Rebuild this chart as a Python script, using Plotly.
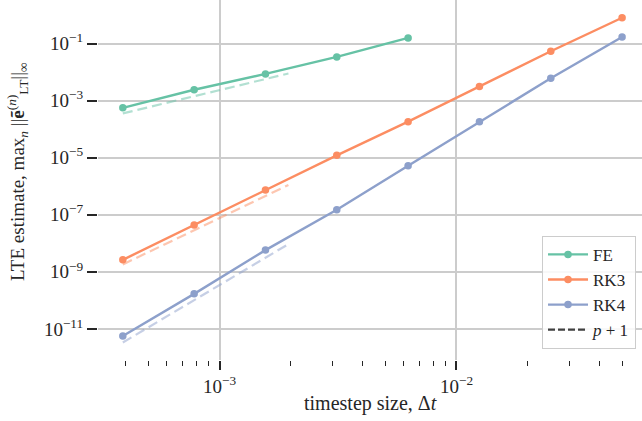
import plotly.graph_objects as go

# timestep sizes
dt = [3.90625e-4, 7.8125e-4, 1.5625e-3, 3.125e-3, 6.25e-3, 1.25e-2, 2.5e-2, 5e-2]

# LTE estimates
fe_err = [5.6e-4, 2.4e-3, 8.6e-3, 3.4e-2, 0.158]
rk3_err = [2.64e-9, 4.35e-8, 7.36e-7, 1.21e-5, 1.83e-4, 3.10e-3, 5.37e-2, 0.80]
rk4_err = [5.68e-12, 1.69e-10, 5.77e-9, 1.50e-7, 5.24e-6, 1.83e-4, 6.05e-3, 0.17]

# p+1 reference slopes (endpoints)
ref_dt = [3.90625e-4, 1.953125e-3]
fe_ref = [3.56e-4, 8.9e-3]
rk3_ref = [1.82e-9, 1.10e-6]
rk4_ref = [3.33e-12, 9.37e-9]

names = ["FE", "RK3", "RK4"]
colors = ["#66c2a5", "#fc8d62", "#8da0cb"]
ref_colors = ["rgba(102,194,165,0.5)", "rgba(252,141,98,0.5)", "rgba(141,160,203,0.5)"]

y_ticks = [1e-1, 1e-3, 1e-5, 1e-7, 1e-9, 1e-11]
y_ticktext = ["10<sup>−1</sup>", "10<sup>−3</sup>", "10<sup>−5</sup>", "10<sup>−7</sup>",
              "10<sup>−9</sup>", "10<sup>−11</sup>"]
x_ticks = [1e-3, 1e-2]
x_ticktext = ["10<sup>−3</sup>", "10<sup>−2</sup>"]
x_minor = [4e-4, 5e-4, 6e-4, 7e-4, 8e-4, 9e-4,
           2e-3, 3e-3, 4e-3, 5e-3, 6e-3, 7e-3, 8e-3, 9e-3,
           2e-2, 3e-2, 4e-2, 5e-2]

FONT = "Liberation Serif"
TXT = "#262626"

fig = go.Figure()

series = [fe_err, rk3_err, rk4_err]
refs = [fe_ref, rk3_ref, rk4_ref]
for name, c, rc, s, r in zip(names, colors, ref_colors, series, refs):
    fig.add_trace(go.Scatter(x=ref_dt, y=r, mode="lines",
                             line=dict(color=rc, width=2.2, dash="10px,5px"),
                             showlegend=False, hoverinfo="skip"))
for name, c, s in zip(names, colors, series):
    fig.add_trace(go.Scatter(x=dt[:len(s)], y=s, mode="lines+markers", name=name,
                             line=dict(color=c, width=2.4),
                             marker=dict(color=c, size=7.5)))
fig.add_trace(go.Scatter(x=[None], y=[None], mode="lines", name="<i>p</i> + 1",
                         line=dict(color="#404040", width=2.2, dash="7px,3px")))

fig.update_layout(
    width=642, height=421,
    margin=dict(l=98, r=0, t=0, b=61),
    paper_bgcolor="white", plot_bgcolor="white",
    font=dict(family=FONT, size=17, color=TXT),
    legend=dict(x=0.989, y=0.031, xanchor="right", yanchor="bottom",
                bgcolor="rgba(255,255,255,0.85)", bordercolor="#cccccc", borderwidth=1,
                font=dict(family=FONT, size=17, color=TXT), tracegroupgap=0,
                itemwidth=40),
    showlegend=True,
)

fig.update_xaxes(type="log", range=[-3.513, -1.217],
                 tickvals=x_ticks, ticktext=x_ticktext,
                 ticks="outside", ticklen=9, tickwidth=1.6, tickcolor=TXT,
                 showgrid=True, gridcolor="#cccccc", gridwidth=1.5,
                 showline=False, zeroline=False,
                 tickfont=dict(family=FONT, size=19, color=TXT),
                 minor=dict(tickvals=x_minor, ticks="outside", ticklen=5,
                            tickwidth=1.4, tickcolor=TXT, showgrid=False))
fig.update_yaxes(type="log", range=[-12.09, 0.526],
                 tickvals=y_ticks, ticktext=y_ticktext,
                 ticks="outside", ticklen=10, tickwidth=2, tickcolor=TXT,
                 showgrid=True, gridcolor="#cccccc", gridwidth=1.5,
                 showline=False, zeroline=False,
                 tickfont=dict(family=FONT, size=19, color=TXT))

fig.add_annotation(text="timestep size, Δ<i>t</i>", xref="paper", yref="paper",
                   x=0.5, y=-0.122, showarrow=False, xanchor="center", yanchor="middle",
                   font=dict(family=FONT, size=20, color=TXT))
fig.add_annotation(text="LTE estimate, max<sub><i>n</i></sub> ||<b>ẽ</b><sup>(<i>n</i>)</sup><sub>LT</sub>||<sub>∞</sub>",
                   xref="paper", yref="paper", x=-0.149, y=0.522, textangle=-90,
                   showarrow=False, xanchor="center", yanchor="middle",
                   font=dict(family=FONT, size=19, color=TXT))

fig.write_html("out.html")
